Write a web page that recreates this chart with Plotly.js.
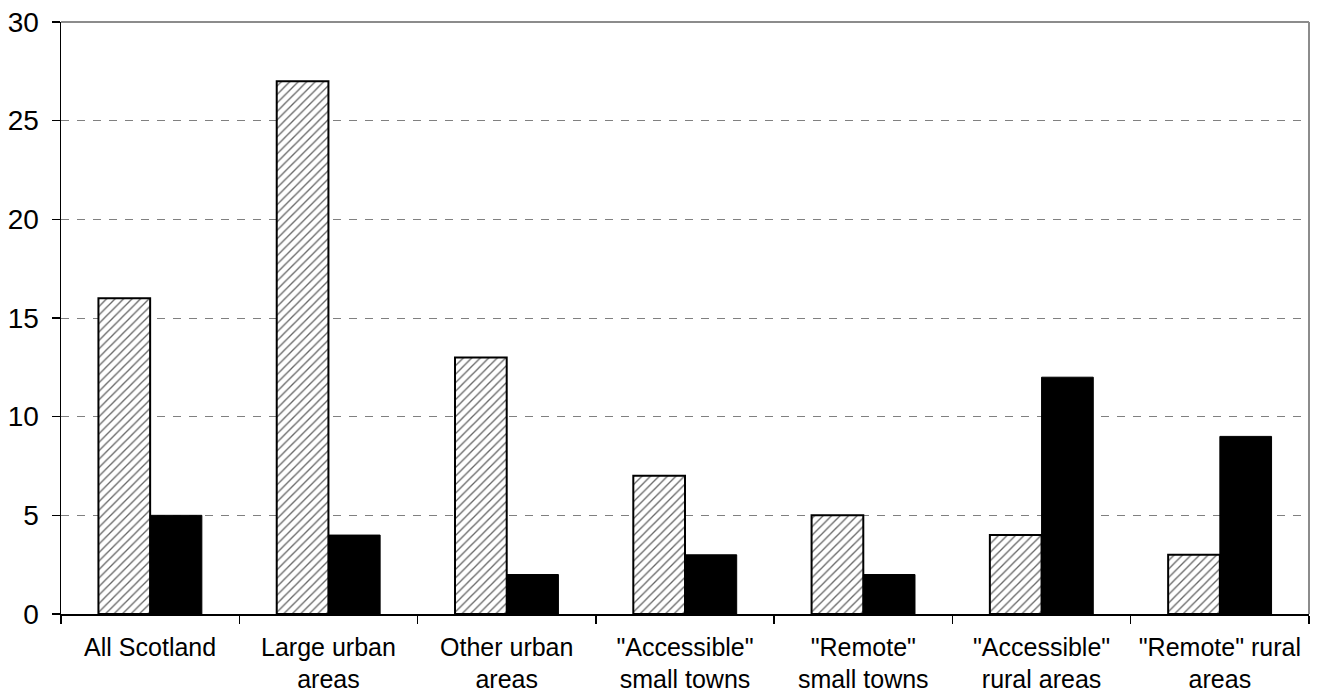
<!DOCTYPE html>
<html>
<head>
<meta charset="utf-8">
<script src="https://cdn.plot.ly/plotly-3.0.1.min.js"></script>
<style>
  html, body { margin: 0; padding: 0; background: #ffffff; }
  #chart { width: 1321px; height: 696px; }
</style>
</head>
<body>
<div id="chart"></div>
<script>
// Area types (each label wraps over two lines)
const categories = [
  'All Scotland',
  'Large urban<br>areas',
  'Other urban<br>areas',
  '"Accessible"<br>small towns',
  '"Remote"<br>small towns',
  '"Accessible"<br>rural areas',
  '"Remote" rural<br>areas'
];

// Two series per area type
const hatchedValues = [16, 27, 13, 7, 5, 4, 3];
const solidValues = [5, 4, 2, 3, 2, 12, 9];

const yTicks = [0, 5, 10, 15, 20, 25, 30];

const hatched = {
  type: 'bar',
  x: categories,
  y: hatchedValues,
  marker: {
    color: '#ffffff',
    line: { color: '#000000', width: 2 },
    pattern: { shape: '/', fgcolor: '#666666', bgcolor: '#ffffff', size: 6, solidity: 0.22 }
  },
  hoverinfo: 'skip'
};

const solid = {
  type: 'bar',
  x: categories,
  y: solidValues,
  marker: {
    color: '#000000',
    line: { color: '#000000', width: 1 }
  },
  hoverinfo: 'skip'
};

const layout = {
  width: 1321,
  height: 696,
  margin: { l: 61, r: 12, t: 22, b: 82 },
  paper_bgcolor: '#ffffff',
  plot_bgcolor: '#ffffff',
  showlegend: false,
  barmode: 'group',
  bargap: 0.42,
  bargroupgap: 0,
  font: { family: 'Liberation Sans, Arial, sans-serif', color: '#000000' },
  xaxis: {
    type: 'category',
    showline: true,
    linecolor: '#000000',
    linewidth: 1.5,
    ticks: 'outside',
    tickson: 'boundaries',
    ticklen: 8,
    tickcolor: '#000000',
    tickwidth: 1.5,
    showgrid: false,
    tickfont: { size: 25, color: '#000000' },
    ticklabelstandoff: 10,
    fixedrange: true
  },
  yaxis: {
    range: [0, 30],
    tickvals: yTicks,
    ticktext: yTicks.map(String),
    showline: true,
    linecolor: '#000000',
    linewidth: 1.5,
    ticks: 'outside',
    ticklen: 8,
    tickcolor: '#000000',
    tickwidth: 1.5,
    showgrid: true,
    gridcolor: '#808080',
    gridwidth: 1,
    griddash: '8px,8px',
    zeroline: false,
    tickfont: { size: 28, color: '#000000' },
    ticklabelstandoff: 7,
    fixedrange: true
  },
  shapes: [
    { type: 'line', xref: 'paper', yref: 'paper', x0: 0, x1: 1, y0: 1, y1: 1,
      line: { color: '#8c8c8c', width: 2 } },
    { type: 'line', xref: 'paper', yref: 'paper', x0: 1, x1: 1, y0: 0, y1: 1,
      line: { color: '#8c8c8c', width: 2 } }
  ]
};

Plotly.newPlot('chart', [hatched, solid], layout, { displayModeBar: false, staticPlot: true });
</script>
</body>
</html>
